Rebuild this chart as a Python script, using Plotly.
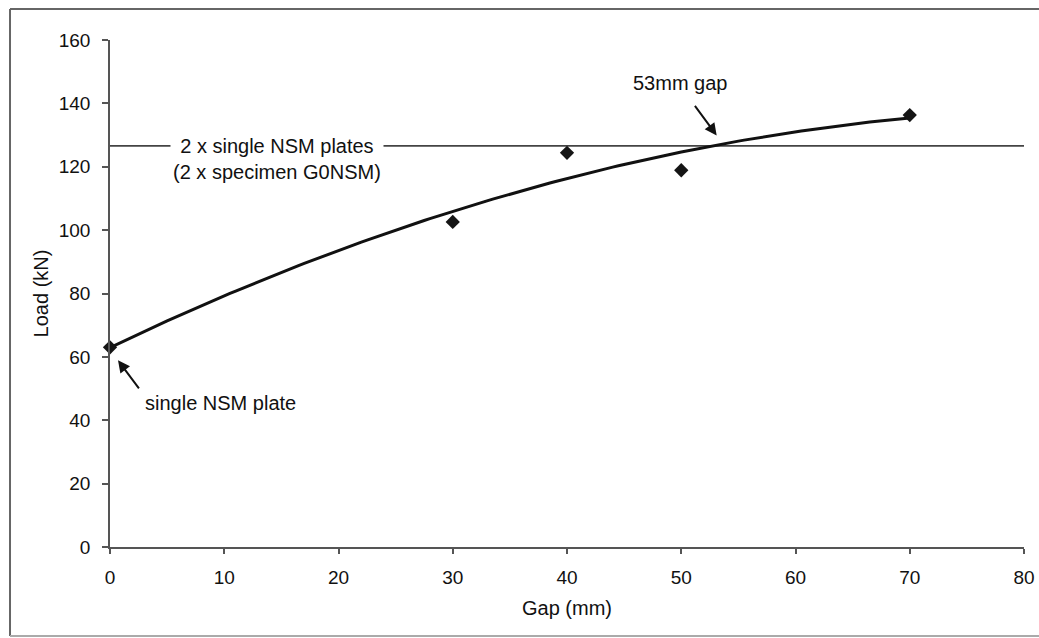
import numpy as np
import plotly.graph_objects as go

# Measured ultimate loads against the gap between the two NSM plates
gap_mm = [0, 30, 40, 50, 70]
load_kn = [63.0, 102.6, 124.4, 118.9, 136.3]

# Reference level: twice the single-plate specimen (G0NSM)
single_plate_kn = 63.3
double_plate_kn = 2 * single_plate_kn

x_ticks = [0, 10, 20, 30, 40, 50, 60, 70, 80]
y_ticks = [0, 20, 40, 60, 80, 100, 120, 140, 160]

# Second-order polynomial trend through the test results
coef = np.polyfit(gap_mm, load_kn, 2)
trend_x = np.linspace(min(gap_mm), max(gap_mm), 141)
trend_y = np.polyval(coef, trend_x)

FONT = "Liberation Sans, Arial, sans-serif"
AXIS_GREY = "#555555"

fig = go.Figure()

# Horizontal reference line for two single plates
fig.add_trace(go.Scatter(
    x=[0, 80], y=[double_plate_kn, double_plate_kn],
    mode="lines", line=dict(color="#444444", width=1.6),
    hoverinfo="skip", showlegend=False,
))

fig.add_trace(go.Scatter(
    x=trend_x, y=trend_y, mode="lines",
    line=dict(color="#111111", width=3),
    hoverinfo="skip", showlegend=False, cliponaxis=False,
))

fig.add_trace(go.Scatter(
    x=gap_mm, y=load_kn, mode="markers",
    marker=dict(symbol="diamond", size=11, color="#151515"),
    showlegend=False, cliponaxis=False,
))

text_font = dict(family=FONT, size=20, color="#111111")

annotations = [
    dict(x=14.6, y=122.5, xref="x", yref="y",
         text="2 x single NSM plates<br>(2 x specimen G0NSM)",
         showarrow=False, bgcolor="white", borderpad=2, font=text_font),
    dict(x=49.9, y=146.3, xref="x", yref="y", text="53mm gap",
         showarrow=False, font=text_font),
    dict(x=9.7, y=45.3, xref="x", yref="y", text="single NSM plate",
         showarrow=False, font=text_font),
    # Pointer to the intersection of the trend with the reference line
    dict(x=53.1, y=129.9, ax=51.1, ay=139.7, xref="x", yref="y",
         axref="x", ayref="y", text="", showarrow=True,
         arrowhead=2, arrowsize=1.2, arrowwidth=2, arrowcolor="#111111",
         standoff=0, startstandoff=0),
    # Pointer to the single-plate result
    dict(x=0.7, y=58.9, ax=2.63, ay=49.6, xref="x", yref="y",
         axref="x", ayref="y", text="", showarrow=True,
         arrowhead=2, arrowsize=1.2, arrowwidth=2, arrowcolor="#111111",
         standoff=0, startstandoff=0),
]

# Chart-area border: left, top and bottom edges
FX0, FX1, FY0, FY1 = -0.1094, 1.05, -0.1755, 1.0611
shapes = [
    dict(type="line", xref="paper", yref="paper", x0=FX0, x1=FX0, y0=FY0, y1=FY1,
         line=dict(color="#666666", width=2)),
    dict(type="line", xref="paper", yref="paper", x0=FX0, x1=FX1, y0=FY1, y1=FY1,
         line=dict(color="#666666", width=2)),
    dict(type="line", xref="paper", yref="paper", x0=FX0, x1=FX1, y0=FY0, y1=FY0,
         line=dict(color="#aaaaaa", width=2)),
]

fig.update_layout(
    width=1039, height=638,
    margin=dict(l=110, r=15, t=40, b=91, autoexpand=False),
    paper_bgcolor="white", plot_bgcolor="white",
    font=dict(family=FONT, size=19, color="#111111"),
    annotations=annotations, shapes=shapes,
    xaxis=dict(
        range=[0, 80], tickvals=x_ticks, ticktext=[str(v) for v in x_ticks],
        showgrid=False, zeroline=False, automargin=False,
        showline=True, linecolor=AXIS_GREY, linewidth=1.5,
        ticks="outside", ticklen=5, tickwidth=1.5, tickcolor=AXIS_GREY,
        ticklabelstandoff=7,
        title=dict(text="Gap (mm)", font=dict(size=20), standoff=14),
    ),
    yaxis=dict(
        range=[0, 160], tickvals=y_ticks, ticktext=[str(v) for v in y_ticks],
        showgrid=False, zeroline=False, automargin=False,
        showline=True, linecolor=AXIS_GREY, linewidth=1.5,
        ticks="outside", ticklen=6, tickwidth=1.5, tickcolor=AXIS_GREY,
        ticklabelstandoff=8,
        title=dict(text="Load (kN)", font=dict(size=20), standoff=5),
    ),
)

fig.write_html("out.html")
